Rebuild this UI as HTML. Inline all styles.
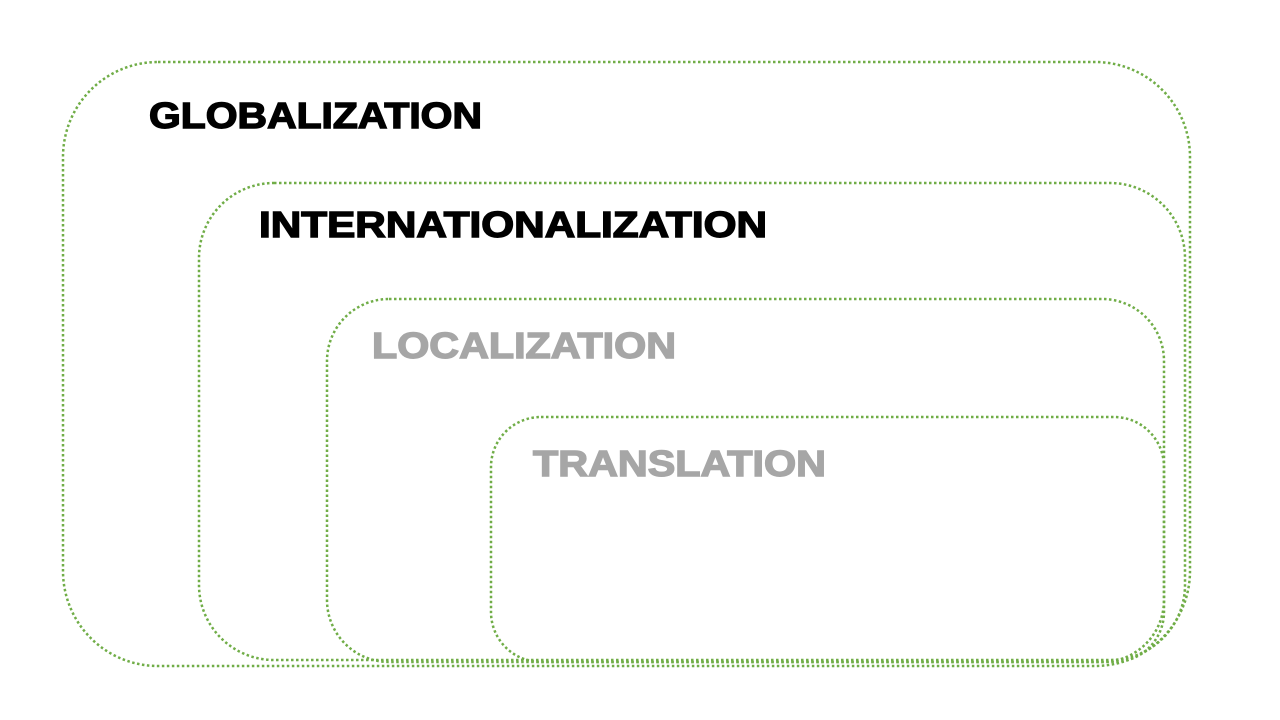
<!DOCTYPE html>
<html><head><meta charset="utf-8"><style>
html,body{margin:0;padding:0;background:#fff;}
svg{display:block;}
text{font-family:"Liberation Sans",Arial,sans-serif;font-weight:bold;}
</style></head><body>
<svg width="1280" height="720" viewBox="0 0 1280 720">
<g fill="none" stroke="#70ad47" stroke-width="2.5" stroke-dasharray="2.5 2.5">
<rect x="63" y="62" width="1127" height="604" rx="95" ry="95"/>
<rect x="199" y="183" width="986" height="477" rx="75" ry="75"/>
<rect x="327" y="299" width="837" height="363" rx="62" ry="62"/>
<rect x="491" y="417" width="673" height="245" rx="50" ry="50"/>
</g>
<text x="149" y="128" font-size="36" fill="#000" stroke="#000" stroke-width="1.4" textLength="333" lengthAdjust="spacingAndGlyphs">GLOBALIZATION</text>
<text x="259" y="237" font-size="36" fill="#000" stroke="#000" stroke-width="1.4" textLength="508" lengthAdjust="spacingAndGlyphs">INTERNATIONALIZATION</text>
<text x="372" y="358" font-size="36" fill="#a6a6a6" stroke="#a6a6a6" stroke-width="1.4" textLength="304" lengthAdjust="spacingAndGlyphs">LOCALIZATION</text>
<text x="533" y="476" font-size="36" fill="#a6a6a6" stroke="#a6a6a6" stroke-width="1.4" textLength="293" lengthAdjust="spacingAndGlyphs">TRANSLATION</text>
</svg>
</body></html>
